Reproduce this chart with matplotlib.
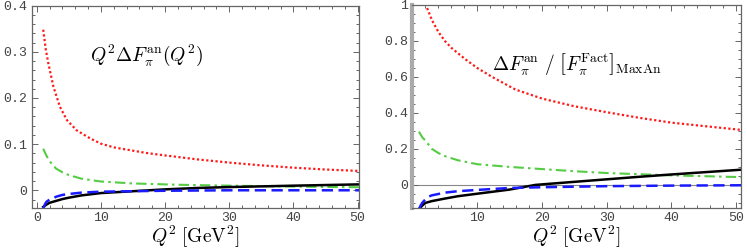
import matplotlib
matplotlib.use("Agg")
import matplotlib.pyplot as plt
from matplotlib.ticker import MultipleLocator

plt.rcParams['mathtext.fontset'] = 'cm'

# ---- Left panel data: Q^2 * Delta F_pi^an ----
L_red_x = [1, 1.4, 1.8, 2.6, 3.6, 4.7, 6.2, 8.3, 10, 12, 14.5, 17, 19.7, 25, 30, 35, 40, 45, 51]
L_red_y = [0.348, 0.305, 0.275, 0.224, 0.181, 0.152, 0.130, 0.1125, 0.101, 0.093, 0.087,
           0.081, 0.076, 0.067, 0.060, 0.054, 0.049, 0.045, 0.0415]
L_green_x = [1, 1.5, 2, 3, 4, 5, 7, 10, 15, 22, 30, 40, 51]
L_green_y = [0.090, 0.075, 0.063, 0.047, 0.039, 0.033, 0.025, 0.019, 0.0148, 0.012,
             0.010, 0.008, 0.0065]
L_blue_x = [1, 1.25, 1.5, 2, 2.6, 3, 4, 5, 7, 10, 15, 20, 30, 51]
L_blue_y = [-0.040, -0.031, -0.025, -0.020, -0.017, -0.014, -0.010, -0.008, -0.005,
            -0.003, -0.002, -0.001, 0.000, 0.000]
L_black_x = [1, 1.5, 2, 3, 4, 5, 7, 10, 15, 20, 25, 30, 40, 51]
L_black_y = [-0.036, -0.031, -0.027, -0.023, -0.019, -0.016, -0.011, -0.006, -0.002,
             0.002, 0.005, 0.007, 0.010, 0.013]

# ---- Right panel data: Delta F_pi^an / [F_pi^Fact]_MaxAn ----
R_red_x = [1, 1.5, 2.07, 3, 4, 5, 6, 8.1, 10, 12.3, 15.9, 20, 25, 30, 35, 40, 45, 51]
R_red_y = [1.30, 1.13, 1.00, 0.916, 0.85, 0.80, 0.762, 0.70, 0.65, 0.60, 0.53, 0.48,
           0.437, 0.404, 0.373, 0.346, 0.327, 0.305]
R_green_x = [1, 1.5, 2, 3, 4, 5, 7, 10, 15, 20, 25, 30, 40, 51]
R_green_y = [0.296, 0.265, 0.246, 0.200, 0.177, 0.160, 0.137, 0.115, 0.100, 0.088,
             0.076, 0.066, 0.053, 0.043]
R_blue_x = [1, 1.25, 1.5, 2, 2.5, 3, 5, 7, 10, 15, 20, 30, 40, 51]
R_blue_y = [-0.135, -0.115, -0.100, -0.080, -0.065, -0.058, -0.043, -0.035, -0.028,
            -0.017, -0.013, -0.007, -0.004, -0.002]
R_black_x = [1, 1.5, 2, 3, 5, 7, 10, 15, 19, 25, 30, 35, 40, 51]
R_black_y = [-0.135, -0.115, -0.100, -0.090, -0.076, -0.063, -0.049, -0.026, 0.000,
             0.017, 0.031, 0.045, 0.058, 0.085]

L_yticks = [0, 0.1, 0.2, 0.3, 0.4]
L_ytick_labels = ["0", "0.1", "0.2", "0.3", "0.4"]
L_xticks = [0, 10, 20, 30, 40, 50]
R_yticks = [0, 0.2, 0.4, 0.6, 0.8, 1.0]
R_ytick_labels = ["0", "0.2", "0.4", "0.6", "0.8", "1"]
R_xticks = [10, 20, 30, 40, 50]

fig = plt.figure(figsize=(7.47, 2.49), dpi=100)
axL = fig.add_axes([0.0424, 0.1635, 0.438, 0.8137])
axR = fig.add_axes([0.5522, 0.1635, 0.4394, 0.8165])

red = '#ff1a1a'
green = '#55cc44'
blue = '#1a1aff'

def curves(ax, rx, ry, gx, gy, bx, by, kx, ky):
    ax.plot(rx, ry, color=red, lw=1.6, linestyle=(0, (1, 1.1)))
    ax.plot(gx, gy, color=green, lw=1.5, linestyle=(0, (5, 2, 1.2, 2)))
    ax.plot(kx, ky, color='black', lw=1.8, linestyle='-')
    ax.plot(bx, by, color=blue, lw=1.8, linestyle=(0, (4.5, 2.2)))

def style(ax, xticks, yticks, yticklabels, xlim, ylim, xminor, yminor):
    ax.set_xlim(*xlim)
    ax.set_ylim(*ylim)
    ax.set_xticks(xticks)
    ax.set_xticklabels([str(t) for t in xticks])
    ax.set_yticks(yticks)
    ax.set_yticklabels(yticklabels)
    ax.xaxis.set_minor_locator(MultipleLocator(xminor))
    ax.yaxis.set_minor_locator(MultipleLocator(yminor))
    ax.tick_params(which='both', direction='in', top=True, right=True,
                   color='#666666', width=0.7)
    ax.tick_params(which='major', length=4)
    ax.tick_params(which='minor', length=2)
    ax.tick_params(axis='both', labelcolor='#444444', pad=3)
    for lab in ax.get_xticklabels() + ax.get_yticklabels():
        lab.set_family('Liberation Mono')
        lab.set_fontsize(9.5)
    for s in ax.spines.values():
        s.set_color('#666666')
        s.set_linewidth(0.9)
    ax.set_xlabel(r'$Q^2\;[\mathrm{GeV}^2]$', fontsize=14, labelpad=0)

curves(axL, L_red_x, L_red_y, L_green_x, L_green_y, L_blue_x, L_blue_y, L_black_x, L_black_y)
style(axL, L_xticks, L_yticks, L_ytick_labels, (-0.8, 50.2), (-0.039, 0.4), 2, 0.02)
axL.text(0.178, 0.757, r'$Q^2\Delta F_\pi^{\rm an}(Q^2)$', transform=axL.transAxes,
         fontsize=14, ha='left', va='center')

axR.axhline(0, color='#888888', lw=0.8, zorder=1)
curves(axR, R_red_x, R_red_y, R_green_x, R_green_y, R_blue_x, R_blue_y, R_black_x, R_black_y)
style(axR, R_xticks, R_yticks, R_ytick_labels, (0, 50.7), (-0.13, 1.0), 2, 0.05)
axR.spines['left'].set_color('#aaaaaa')
axR.spines['left'].set_linewidth(3)
axR.text(0.242, 0.705, r'$\Delta F_\pi^{\rm an}\ /\ \left[F_\pi^{\rm Fact}\right]_{\rm MaxAn}$',
         transform=axR.transAxes, fontsize=14, ha='left', va='center')

fig.savefig('out.png', dpi=100)
